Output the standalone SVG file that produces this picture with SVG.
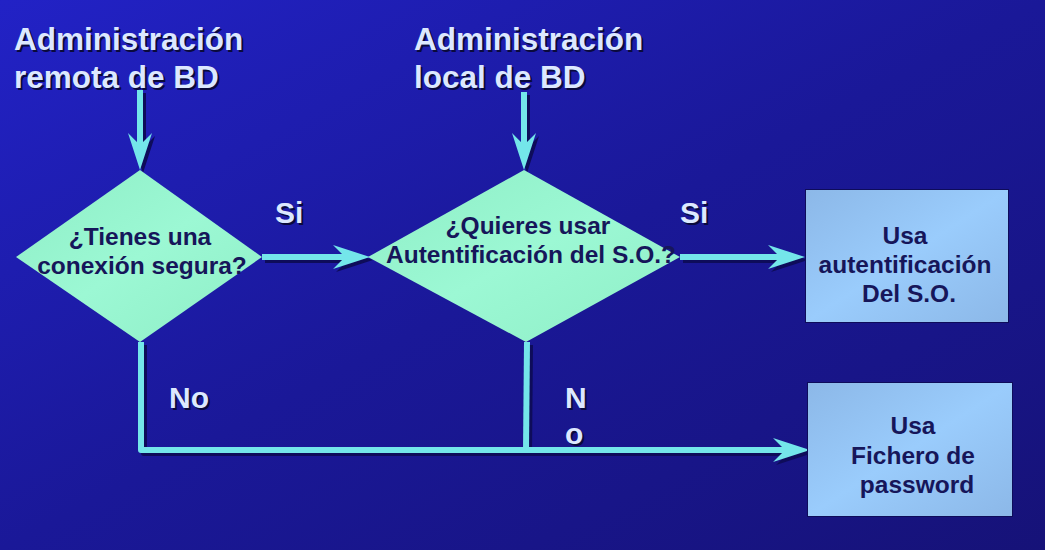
<svg xmlns="http://www.w3.org/2000/svg" xmlns:xlink="http://www.w3.org/1999/xlink" width="1045" height="550" viewBox="0 0 1045 550">
<defs>
<linearGradient id="bg" x1="0" y1="0" x2="1" y2="1">
<stop offset="0" stop-color="#2222c6"/>
<stop offset="0.5" stop-color="#1a1898"/>
<stop offset="1" stop-color="#161278"/>
</linearGradient>
<linearGradient id="dia" x1="0" y1="0" x2="1" y2="1">
<stop offset="0" stop-color="#8eeec6"/>
<stop offset="0.5" stop-color="#9cf8d4"/>
<stop offset="1" stop-color="#8eeec6"/>
</linearGradient>
<linearGradient id="box" x1="0" y1="0" x2="1" y2="1">
<stop offset="0" stop-color="#8cb8e8"/>
<stop offset="0.5" stop-color="#9accfc"/>
<stop offset="1" stop-color="#8cb8e8"/>
</linearGradient>
<path id="ah" d="M0,0 L-37,-12 L-25,0 L-37,12 Z"/>
<style>
.title{font-family:"Liberation Sans",Arial,sans-serif;font-weight:bold;font-size:31.5px;fill:#dce8ff}
.tsh{font-family:"Liberation Sans",Arial,sans-serif;font-weight:bold;font-size:31.5px;fill:#0a0a3c}
.lab{font-family:"Liberation Sans",Arial,sans-serif;font-weight:bold;font-size:30px;fill:#dce8ff}
.lsh{font-family:"Liberation Sans",Arial,sans-serif;font-weight:bold;font-size:30px;fill:#0a0a3c}
.nt{font-family:"Liberation Sans",Arial,sans-serif;font-weight:bold;font-size:24.5px;fill:#16165a;text-anchor:middle}
.line{fill:none;stroke:#74e6ea;stroke-width:6;stroke-linejoin:round}
.shl{fill:none;stroke:#0e0c5a;stroke-width:6;stroke-linejoin:round}
.head{fill:#74e6ea}
.hsh{fill:#0e0c5a}
</style>
</defs>
<rect x="0" y="0" width="1045" height="550" fill="url(#bg)"/>

<g id="titles">
<text class="tsh" x="16" y="52">Administración</text>
<text class="tsh" x="16" y="90">remota de BD</text>
<text class="title" x="14" y="50">Administración</text>
<text class="title" x="14" y="88">remota de BD</text>
<text class="tsh" x="416" y="52">Administración</text>
<text class="tsh" x="416" y="90">local de BD</text>
<text class="title" x="414" y="50">Administración</text>
<text class="title" x="414" y="88">local de BD</text>
</g>

<g id="connectors">
<g transform="translate(3,3)">
<path class="shl" d="M140,90 V145"/>
<path class="shl" d="M524,92 V145"/>
<path class="shl" d="M262,257 H345"/>
<path class="shl" d="M680,257 H780"/>
<path class="shl" d="M141,342 V450 H785"/>
<path class="shl" d="M527,342 L526,450"/>
<use href="#ah" class="hsh" transform="translate(140,170) rotate(90)"/>
<use href="#ah" class="hsh" transform="translate(524,170) rotate(90)"/>
<use href="#ah" class="hsh" transform="translate(370,257)"/>
<use href="#ah" class="hsh" transform="translate(805,257)"/>
<use href="#ah" class="hsh" transform="translate(810,450)"/>
</g>
<path class="line" d="M140,90 V145"/>
<path class="line" d="M524,92 V145"/>
<path class="line" d="M262,257 H345"/>
<path class="line" d="M680,257 H780"/>
<path class="line" d="M141,342 V450 H785"/>
<path class="line" d="M527,342 L526,450"/>
<use href="#ah" class="head" transform="translate(140,170) rotate(90)"/>
<use href="#ah" class="head" transform="translate(524,170) rotate(90)"/>
<use href="#ah" class="head" transform="translate(370,257)"/>
<use href="#ah" class="head" transform="translate(805,257)"/>
<use href="#ah" class="head" transform="translate(810,450)"/>
</g>

<g id="labels">
<text class="lsh" x="277" y="225">Si</text>
<text class="lab" x="275" y="223">Si</text>
<text class="lsh" x="682" y="225">Si</text>
<text class="lab" x="680" y="223">Si</text>
<text class="lsh" x="171" y="410">No</text>
<text class="lab" x="169" y="408">No</text>
<text class="lsh" x="567" y="410">N</text>
<text class="lab" x="565" y="408">N</text>
<text class="lsh" x="567" y="446">o</text>
<text class="lab" x="565" y="444">o</text>
</g>

<g id="d1">
<polygon points="140,170 262,257 140,342 16,257" fill="url(#dia)"/>
<text class="nt" x="140" y="245">¿Tienes una</text>
<text class="nt" x="142" y="274">conexión segura?</text>
</g>

<g id="d2">
<polygon points="524,170 680,257 526,342 368,257" fill="url(#dia)"/>
<text class="nt" x="528" y="234">¿Quieres usar</text>
<text class="nt" x="531" y="263">Autentificación del S.O.?</text>
</g>

<g id="b1">
<rect x="805" y="189" width="204" height="134" fill="#0e0c5a"/>
<rect x="806" y="190" width="202" height="132" fill="url(#box)"/>
<text class="nt" x="905" y="244">Usa</text>
<text class="nt" x="905" y="273">autentificación</text>
<text class="nt" x="909" y="302">Del S.O.</text>
</g>

<g id="b2">
<rect x="807" y="382" width="206" height="135" fill="#0e0c5a"/>
<rect x="808" y="383" width="204" height="133" fill="url(#box)"/>
<text class="nt" x="913" y="434">Usa</text>
<text class="nt" x="913" y="464">Fichero de</text>
<text class="nt" x="917" y="493">password</text>
</g>
</svg>
